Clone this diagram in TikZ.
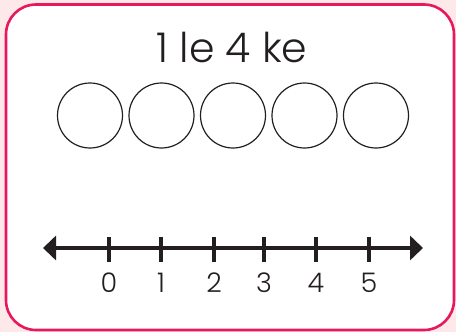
\documentclass[tikz,border=0pt]{standalone}
\usepackage{fontspec}
\setmainfont{Poppins}[UprightFont={* Light}]
\usetikzlibrary{arrows.meta}
\definecolor{bgpink}{HTML}{FDE8EA}
\definecolor{borderpink}{HTML}{E8185E}
\definecolor{ink}{HTML}{231F20}
\tikzset{
  counter/.style={circle,draw=ink,line width=1.2pt,minimum size=65pt,inner sep=0pt},
  tickmark/.style={draw=ink,line width=3.5pt},
  ticklabel/.style={font=\fontsize{27}{27}\selectfont,text=ink,inner sep=0pt},
}
\begin{document}
\begin{tikzpicture}[x=1pt,y=-1pt]
\useasboundingbox (0,0) rectangle (456,332);
\fill[bgpink] (0,0) rectangle (456,332);
\draw[borderpink,fill=white,line width=2.6pt,rounded corners=30pt] (6,4.5) rectangle (454,330);
\node[font=\fontsize{41}{41}\selectfont,text=ink,anchor=base,inner sep=0pt] (title) at (232,63) {1 le 4 ke};
\foreach \i/\x in {1/90,2/161.5,3/233,4/304.5,5/376}
  \node[counter] (c\i) at (\x,115.5) {};
\coordinate (lineL) at (43,248);
\coordinate (lineR) at (423,248);
\draw[ink,line width=4pt,{Triangle[length=13pt,width=24pt]}-{Triangle[length=13pt,width=24pt]}] (lineL) -- (lineR);
\foreach \n/\x in {0/109,1/161,2/214,3/264,4/316,5/369}{
  \coordinate (t\n) at (\x,237);
  \coordinate (b\n) at (\x,262);
  \draw[tickmark] (t\n) -- (b\n);
  \node[ticklabel] (l\n) at (\x,283) {\n};
}
\end{tikzpicture}
\end{document}
